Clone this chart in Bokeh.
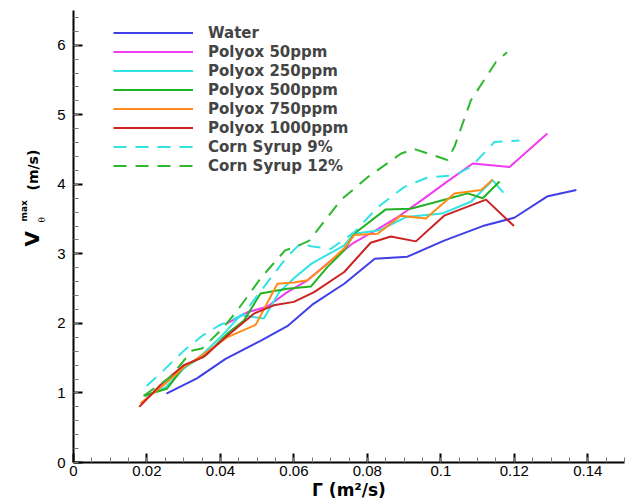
import math
from bokeh.plotting import figure
from bokeh.layouts import row
from bokeh.models import (Range1d, FixedTicker, CustomJSTickFormatter, Legend, LegendItem, Label)
from bokeh.embed import file_html
from bokeh.resources import INLINE

# ---- data ----
water_x = [0.0253, 0.0336, 0.0414, 0.0509, 0.0582, 0.0650, 0.0737, 0.0820, 0.0909, 0.1009, 0.1114, 0.1200, 0.1291, 0.1369]
water_y = [0.99, 1.21, 1.49, 1.75, 1.96, 2.27, 2.57, 2.93, 2.96, 3.19, 3.40, 3.52, 3.83, 3.92]

p50_x = [0.0418, 0.0473, 0.0527, 0.0582, 0.0637, 0.0700, 0.0760, 0.0820, 0.0880, 0.0950, 0.1020, 0.1087, 0.1187, 0.1290]
p50_y = [2.00, 2.16, 2.24, 2.45, 2.62, 2.90, 3.15, 3.33, 3.52, 3.78, 4.05, 4.30, 4.25, 4.73]

p250_x = [0.0195, 0.0250, 0.0300, 0.0350, 0.0400, 0.0455, 0.0518, 0.0560, 0.0600, 0.0648, 0.0736, 0.0764, 0.0833, 0.0905, 0.1003, 0.1082, 0.1141, 0.1170]
p250_y = [0.95, 1.08, 1.35, 1.55, 1.80, 2.12, 2.07, 2.45, 2.65, 2.86, 3.12, 3.29, 3.34, 3.53, 3.58, 3.75, 4.06, 3.88]

p500_x = [0.0191, 0.0254, 0.0300, 0.0364, 0.0418, 0.0464, 0.0509, 0.0582, 0.0646, 0.0691, 0.0737, 0.0764, 0.0850, 0.0918, 0.0982, 0.1073, 0.1114, 0.1160]
p500_y = [0.96, 1.06, 1.37, 1.56, 1.85, 2.04, 2.43, 2.50, 2.53, 2.81, 3.05, 3.29, 3.64, 3.65, 3.74, 3.87, 3.80, 4.04]

p750_x = [0.0182, 0.0245, 0.0300, 0.0355, 0.0418, 0.0496, 0.0555, 0.0600, 0.0637, 0.0690, 0.0737, 0.0764, 0.0828, 0.0891, 0.0959, 0.1037, 0.1110, 0.1141]
p750_y = [0.85, 1.11, 1.37, 1.56, 1.80, 1.98, 2.57, 2.59, 2.62, 2.85, 3.08, 3.27, 3.29, 3.55, 3.51, 3.87, 3.92, 4.07]

p1000_x = [0.0179, 0.0236, 0.0300, 0.0355, 0.0409, 0.0491, 0.0545, 0.0600, 0.0655, 0.0737, 0.0809, 0.0864, 0.0932, 0.1009, 0.1123, 0.1199]
p1000_y = [0.80, 1.11, 1.40, 1.52, 1.78, 2.14, 2.26, 2.31, 2.45, 2.74, 3.16, 3.25, 3.18, 3.55, 3.78, 3.40]

cs9_x = [0.0199, 0.0250, 0.0303, 0.0350, 0.0396, 0.0460, 0.0522, 0.0580, 0.0618, 0.0646, 0.0700, 0.0764, 0.0828, 0.0900, 0.0964, 0.1037, 0.1082, 0.1146, 0.1182, 0.1214]
cs9_y = [1.10, 1.35, 1.62, 1.82, 1.97, 2.12, 2.55, 2.95, 3.15, 3.11, 3.07, 3.31, 3.67, 3.96, 4.10, 4.13, 4.25, 4.61, 4.62, 4.63]

cs12_x = [0.0191, 0.0264, 0.0323, 0.0350, 0.0401, 0.0445, 0.0511, 0.0576, 0.0604, 0.0642, 0.0727, 0.0800, 0.0891, 0.0927, 0.1018, 0.1037, 0.1082, 0.1123, 0.1150, 0.1180]
cs12_y = [0.96, 1.23, 1.61, 1.64, 1.90, 2.18, 2.66, 3.05, 3.10, 3.19, 3.77, 4.10, 4.44, 4.51, 4.35, 4.54, 5.21, 5.54, 5.76, 5.90]

series_names = ["Water", "Polyox 50ppm", "Polyox 250ppm", "Polyox 500ppm",
                "Polyox 750ppm", "Polyox 1000ppm", "Corn Syrup 9%", "Corn Syrup 12%"]
series_x = [water_x, p50_x, p250_x, p500_x, p750_x, p1000_x, cs9_x, cs12_x]
series_y = [water_y, p50_y, p250_y, p500_y, p750_y, p1000_y, cs9_y, cs12_y]
series_colors = ["#3f3fe8", "#f03cf0", "#33e3e3", "#22b322", "#ff8c1a", "#cc2222", "#33e3e3", "#2eb82e"]
series_dash = ["solid", "solid", "solid", "solid", "solid", "solid", "13 9", "13 9"]

x_major = [0, 0.02, 0.04, 0.06, 0.08, 0.1, 0.12, 0.14]
y_major = [0, 1, 2, 3, 4, 5, 6]

LEFT_W = 50      # strip holding the y-axis title
W, H = 629, 504

# ---- main figure ----
p = figure(width=W - LEFT_W, height=H, output_backend="svg", toolbar_location=None,
           x_range=Range1d(0, 0.15), y_range=Range1d(0, 6.5),
           min_border_left=73 - LEFT_W, min_border_right=5, min_border_top=10,
           min_border_bottom=H - 462)
p.outline_line_color = None
p.xgrid.visible = False
p.ygrid.visible = False
p.background_fill_color = "white"
p.border_fill_color = "white"

x_minor = [round(i * 0.005, 4) for i in range(0, 31)]
y_minor = [round(i * 0.2, 2) for i in range(0, 33)]
p.xaxis.ticker = FixedTicker(ticks=x_major, minor_ticks=x_minor)
p.yaxis.ticker = FixedTicker(ticks=y_major, minor_ticks=y_minor)
p.xaxis.formatter = CustomJSTickFormatter(code="return String(Math.round(tick*100)/100);")
p.yaxis.formatter = CustomJSTickFormatter(code="return String(Math.round(tick));")

for ax in (p.xaxis, p.yaxis):
    ax.axis_line_color = "black"
    ax.axis_line_width = 2
    ax.major_tick_in = 9
    ax.major_tick_out = 0
    ax.minor_tick_in = 5
    ax.minor_tick_out = 0
    ax.major_tick_line_color = "black"
    ax.major_tick_line_width = 2
    ax.minor_tick_line_color = "#777777"
    ax.minor_tick_line_width = 1
    ax.major_label_text_font = "Liberation Sans"
    ax.major_label_text_font_size = "15px"
    ax.major_label_text_color = "black"
p.xaxis.major_label_standoff = 3
p.yaxis.major_label_standoff = 8

p.xaxis.axis_label = "Γ (m²/s)"
p.xaxis.axis_label_text_font = "DejaVu Sans"
p.xaxis.axis_label_text_font_style = "bold"
p.xaxis.axis_label_text_font_size = "17px"
p.xaxis.axis_label_text_color = "black"
p.xaxis.axis_label_standoff = 1

renderers = []
for xs, ys, c, d in zip(series_x, series_y, series_colors, series_dash):
    r = p.line(xs, ys, line_color=c, line_width=2, line_dash=d)
    renderers.append(r)

items = [LegendItem(label=n, renderers=[r]) for n, r in zip(series_names, renderers)]
legend = Legend(items=items, location=(40, 287), padding=0, margin=0, spacing=0,
                glyph_width=80, glyph_height=19, label_height=19, label_standoff=15,
                label_text_font="DejaVu Sans", label_text_font_style="bold",
                label_text_font_size="15px", border_line_color=None,
                background_fill_alpha=0)
p.add_layout(legend, "center")

# ---- y-axis title strip ----
ly = figure(width=LEFT_W, height=H, output_backend="svg", toolbar_location=None, title=None,
            x_axis_type=None, y_axis_type=None,
            x_range=Range1d(0, 1), y_range=Range1d(0, 1),
            min_border=0, min_border_left=0, min_border_right=0,
            min_border_top=0, min_border_bottom=0)
ly.outline_line_color = None
ly.xgrid.visible = False
ly.ygrid.visible = False
ly.background_fill_color = "white"
ly.border_fill_color = "white"

bold = dict(text_font="DejaVu Sans", text_font_style="bold", text_color="black",
            text_baseline="alphabetic", text_align="left")
ly.add_layout(Label(x=31, y=H - 288, x_units="screen", y_units="screen", text="V",
                    angle=math.pi / 2, text_font_size="20px", **bold))
ly.add_layout(Label(x=23, y=H - 263, x_units="screen", y_units="screen", text="max",
                    angle=math.pi / 2, text_font_size="9px", **bold))
ly.add_layout(Label(x=41, y=H - 264, x_units="screen", y_units="screen", text="θ",
                    angle=math.pi / 2, text_font_size="9px", text_font="DejaVu Serif",
                    text_color="black", text_baseline="alphabetic", text_align="left"))
ly.add_layout(Label(x=32, y=H - 232, x_units="screen", y_units="screen", text="(m/s)",
                    angle=math.pi / 2, text_font_size="14px", **bold))

layout = row(ly, p, spacing=0)
open("out.html", "w").write(file_html(layout, INLINE))
